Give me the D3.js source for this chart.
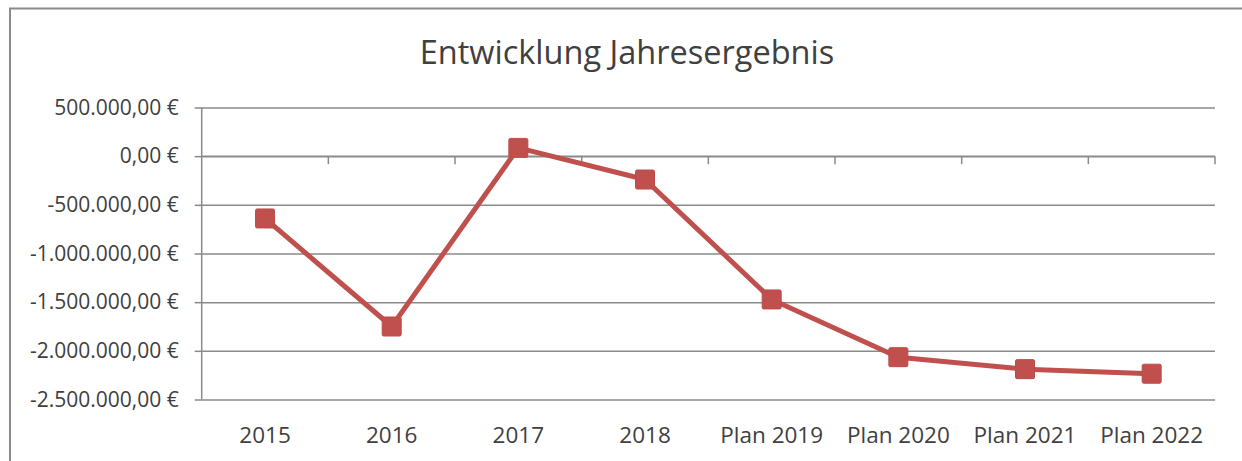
<!DOCTYPE html>
<html>
<head>
<meta charset="utf-8">
<script src="https://cdn.jsdelivr.net/npm/d3@7"></script>
<style>
  html, body { margin: 0; padding: 0; background: #fff; }
  svg { display: block; }
</style>
</head>
<body>
<svg id="chart" width="1242" height="461"></svg>
<script>
// Jahresergebnis je Jahr (Ist und Plan), in Euro
const categories = ["2015", "2016", "2017", "2018", "Plan 2019", "Plan 2020", "Plan 2021", "Plan 2022"];
const results = [-640000, -1750000, 85000, -240000, -1472000, -2065000, -2188000, -2235000];
const yTicks = [500000, 0, -500000, -1000000, -1500000, -2000000, -2500000];
const title = "Entwicklung Jahresergebnis";

const W = 1242, H = 461;
const plot = { left: 201.7, right: 1215, top: 107.5, bottom: 399.5 };
const lineColor = "#C0504D";
const gridColor = "#8A8A8A";
const textColor = "#404040";
const font = "'Open Sans', 'Noto Sans', sans-serif";

const svg = d3.select("#chart");

// outer chart frame (extends past the right and bottom edge)
svg.append("rect")
  .attr("x", 10).attr("y", 8.5)
  .attr("width", W + 20).attr("height", H + 20)
  .attr("fill", "#fff")
  .attr("stroke", "#8A8A8A").attr("stroke-width", 2);

const x = d3.scaleBand().domain(categories).range([plot.left, plot.right]).paddingInner(0).paddingOuter(0);
const y = d3.scaleLinear().domain([-2500000, 500000]).range([plot.bottom, plot.top]);

const fmt = v => {
  const s = d3.format(",.2f")(v).replace(/,/g, "X").replace(/\./g, ",").replace(/X/g, ".");
  return s.replace("−", "-") + " €";
};

// horizontal gridlines + value axis
const yAxis = d3.axisLeft(y).tickValues(yTicks).tickFormat(fmt)
  .tickSize(plot.right - plot.left).tickSizeOuter(0).tickPadding(14);
const gy = svg.append("g").attr("transform", `translate(${plot.right},0)`).call(yAxis);
gy.select(".domain").remove();
gy.selectAll(".tick line").attr("stroke", gridColor).attr("stroke-width", 1.5);
// short outer tick marks to the left of the axis line
gy.selectAll(".tick").append("line")
  .attr("x1", -(plot.right - plot.left)).attr("x2", -(plot.right - plot.left) - 7)
  .attr("stroke", gridColor).attr("stroke-width", 1.5);
gy.selectAll(".tick text")
  .attr("x", -(plot.right - plot.left) - 23)
  .attr("fill", textColor)
  .style("font-family", font).style("font-size", "21px");

// vertical value axis line
svg.append("line")
  .attr("x1", plot.left).attr("x2", plot.left)
  .attr("y1", plot.top).attr("y2", plot.bottom)
  .attr("stroke", gridColor).attr("stroke-width", 1.5);

// category axis along the zero line
const boundaries = categories.map(c => x(c)).concat([plot.right]);
const gx = svg.append("g");
gx.append("line")
  .attr("x1", plot.left).attr("x2", plot.right)
  .attr("y1", y(0)).attr("y2", y(0))
  .attr("stroke", gridColor).attr("stroke-width", 1.5);
gx.selectAll("line.tick").data(boundaries.slice(1)).join("line")
  .attr("class", "tick")
  .attr("x1", d => d).attr("x2", d => d)
  .attr("y1", y(0)).attr("y2", y(0) + 8)
  .attr("stroke", gridColor).attr("stroke-width", 1.5);

// category labels below the plot
svg.append("g").selectAll("text").data(categories).join("text")
  .attr("x", d => x(d) + x.bandwidth() / 2)
  .attr("y", 443)
  .attr("text-anchor", "middle")
  .attr("fill", textColor)
  .style("font-family", font).style("font-size", "22.5px")
  .text(d => d);

// series line
const line = d3.line()
  .x((d, i) => x(categories[i]) + x.bandwidth() / 2)
  .y(d => y(d));
svg.append("path")
  .datum(results)
  .attr("d", line)
  .attr("fill", "none")
  .attr("stroke", lineColor)
  .attr("stroke-width", 5)
  .attr("stroke-linejoin", "round");

// square markers
const ms = 19;
svg.append("g").selectAll("rect").data(results).join("rect")
  .attr("x", (d, i) => x(categories[i]) + x.bandwidth() / 2 - ms / 2)
  .attr("y", d => y(d) - ms / 2)
  .attr("width", ms).attr("height", ms)
  .attr("rx", 1.5)
  .attr("fill", lineColor)
  .attr("stroke", "#BE4B48").attr("stroke-width", 1);

// title
svg.append("text")
  .attr("x", 627).attr("y", 63.5)
  .attr("text-anchor", "middle")
  .attr("fill", textColor)
  .style("font-family", font).style("font-size", "32.5px")
  .text(title);
</script>
</body>
</html>
